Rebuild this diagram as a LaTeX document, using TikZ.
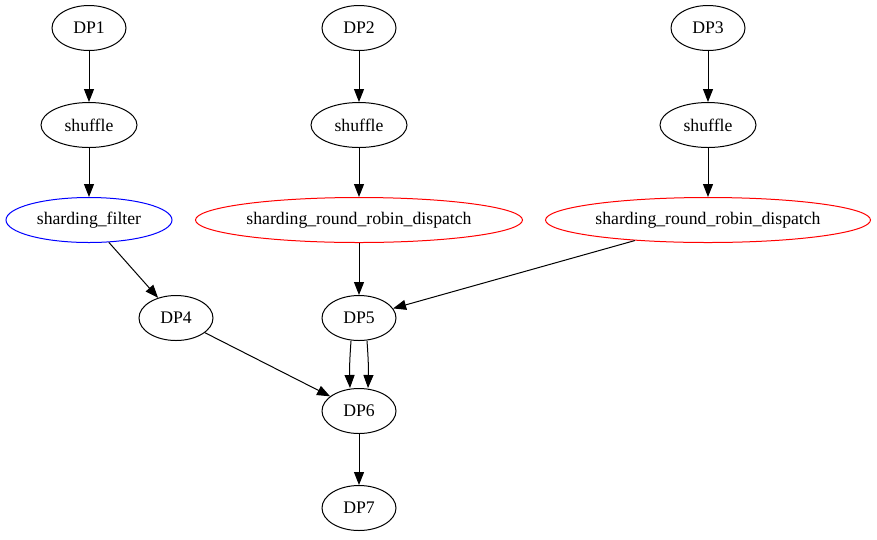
\documentclass[tikz,border=0pt]{standalone}
\usepackage{fontspec}
\setmainfont{Liberation Serif}
\usetikzlibrary{shapes.geometric,arrows.meta}
\begin{document}
\begin{tikzpicture}[x=1pt,y=-1pt,
  nd/.style={draw,ellipse,inner sep=0pt,minimum height=45pt,line width=1pt,font=\fontsize{17.7}{20}\selectfont},
  sm/.style={nd,minimum width=74pt},
  sh/.style={nd,minimum width=96pt},
  arr/.style={-{Triangle[length=13pt,width=10pt]},line width=1pt}]
\useasboundingbox (0,0) rectangle (877,539);
\node[sm] (dp1) at (89,28) {DP1};
\node[sm] (dp2) at (359,28) {DP2};
\node[sm] (dp3) at (708,28) {DP3};
\node[sh] (s1) at (89,125) {shuffle};
\node[sh] (s2) at (359,125) {shuffle};
\node[sh] (s3) at (708,125) {shuffle};
\node[nd,draw=blue,minimum width=166pt] (sf) at (89,220) {sharding\_filter};
\node[nd,draw=red,minimum width=327pt] (r1) at (359,220) {sharding\_round\_robin\_dispatch};
\node[nd,draw=red,minimum width=325pt] (r2) at (708,220) {sharding\_round\_robin\_dispatch};
\node[sm] (dp4) at (176,318) {DP4};
\node[sm] (dp5) at (359,318) {DP5};
\node[sm] (dp6) at (359,411) {DP6};
\node[sm] (dp7) at (359,508) {DP7};
\draw[arr] (dp1) -- (s1);
\draw[arr] (dp2) -- (s2);
\draw[arr] (dp3) -- (s3);
\draw[arr] (s1) -- (sf);
\draw[arr] (s2) -- (r1);
\draw[arr] (s3) -- (r2);
\draw[arr] (sf) -- (dp4);
\draw[arr] (r1) -- (dp5);
\draw[arr] (r2) -- (dp5);
\draw[arr] (dp4) -- (dp6);
\draw[arr] ([xshift=-8pt]dp5.south) to[bend right=3] ([xshift=-9pt]dp6.north);
\draw[arr] ([xshift=8pt]dp5.south) to[bend left=3] ([xshift=9pt]dp6.north);
\draw[arr] (dp6) -- (dp7);
\end{tikzpicture}
\end{document}
